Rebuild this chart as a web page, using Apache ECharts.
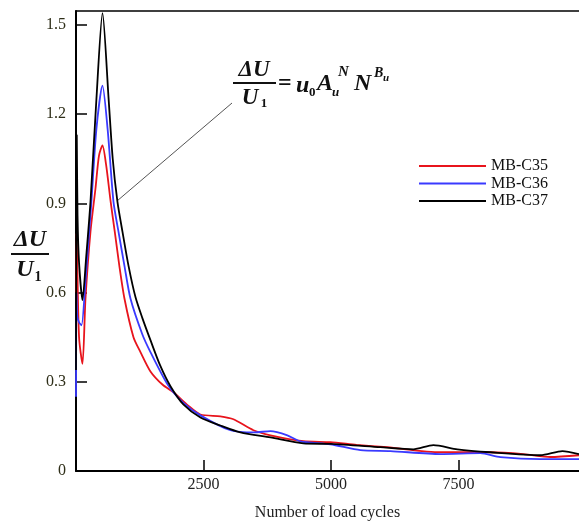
<!DOCTYPE html>
<html>
<head>
<meta charset="utf-8">
<script src="https://cdn.jsdelivr.net/npm/echarts@6/dist/echarts.min.js"></script>
<style>html,body{margin:0;padding:0;background:#fff}#c{width:579px;height:526px}</style>
</head>
<body>
<div id="c"></div>
<script>
const seriesNames = ['MB-C35', 'MB-C36', 'MB-C37'];
const xTicks = [2500, 5000, 7500];
const xTickLabels = ['2500', '5000', '7500'];
const yTicks = [0, 0.3, 0.6, 0.9, 1.2, 1.5];
const yTickLabels = ['0', '0.3', '0.6', '0.9', '1.2', '1.5'];

const mbC35 = [[0,0.6],[10,0.8],[22,0.72],[60,0.45],[127,0.36],[186,0.58],[284,0.805],[382,0.95],[450,1.06],[519,1.095],[590,1.03],[680,0.905],[760,0.805],[850,0.69],[950,0.58],[1127,0.45],[1264,0.40],[1460,0.335],[1700,0.29],[1911,0.265],[2200,0.22],[2440,0.19],[2832,0.184],[3087,0.174],[3479,0.137],[3813,0.12],[4459,0.10],[4988,0.097],[5500,0.088],[6105,0.08],[7144,0.063],[8125,0.063],[8772,0.057],[9301,0.047],[9863,0.053]];
const mbC36 = [[0,0.25],[10,0.6],[25,0.52],[60,0.5],[108,0.49],[186,0.64],[300,0.9],[400,1.15],[519,1.296],[620,1.15],[735,0.905],[833,0.805],[950,0.69],[1068,0.58],[1300,0.46],[1460,0.40],[1800,0.29],[2100,0.23],[2440,0.187],[3028,0.137],[3500,0.13],[3813,0.134],[4145,0.12],[4400,0.10],[4988,0.09],[5576,0.07],[6164,0.067],[7144,0.057],[7928,0.06],[8321,0.047],[9105,0.04],[9863,0.04]];
const mbC37 = [[0,0.34],[15,1.13],[30,0.86],[60,0.70],[127,0.575],[200,0.72],[284,0.905],[400,1.25],[520,1.54],[640,1.25],[720,1.05],[813,0.905],[911,0.805],[1030,0.69],[1166,0.585],[1300,0.515],[1460,0.44],[1650,0.355],[1852,0.285],[2100,0.225],[2440,0.18],[2832,0.153],[3224,0.13],[3813,0.113],[4459,0.093],[5000,0.091],[5968,0.08],[6615,0.073],[7007,0.087],[7477,0.073],[8125,0.063],[9105,0.053],[9537,0.067],[9863,0.057]];

const colors = ['#e8141c', '#3a3aff', '#000000'];
const serif = '"Liberation Serif", "Times New Roman", serif';

const chart = echarts.init(document.getElementById('c'));
const mk = (name, data, color) => ({
  name, type: 'line', data, smooth: 0.25, symbol: 'none',
  lineStyle: { color, width: 1.8 }, itemStyle: { color }
});
const labelOf = (ticks, labels) => v => { const i = ticks.findIndex(t => Math.abs(t - v) < 1e-6); return i >= 0 ? labels[i] : ''; };

chart.setOption({
  animation: false,
  backgroundColor: '#fff',
  grid: { left: 76, top: 11, right: 0, bottom: 52 },
  legend: {
    orient: 'vertical', left: 414, top: 153, icon: 'rect', itemWidth: 67, itemHeight: 2,
    itemGap: 1.5, textStyle: { fontFamily: serif, fontSize: 16, color: '#111', lineHeight: 16 },
    data: seriesNames
  },
  xAxis: [{
    type: 'value', min: 0, max: 9863,
    name: 'Number of load cycles', nameLocation: 'middle', nameGap: 34,
    nameTextStyle: { fontFamily: serif, fontSize: 16, color: '#222' },
    axisLine: { lineStyle: { color: '#000', width: 2 } },
    axisTick: { inside: true, length: 11, lineStyle: { color: '#000', width: 1.5 }, customValues: xTicks },
    axisLabel: { fontFamily: serif, fontSize: 16, color: '#222', margin: 6, customValues: xTicks, formatter: labelOf(xTicks, xTickLabels) },
    splitLine: { show: false }
  }, {
    type: 'value', min: 0, max: 9863, position: 'top',
    axisLine: { show: true, lineStyle: { color: '#000', width: 1.5 } },
    axisTick: { show: false }, axisLabel: { show: false }, splitLine: { show: false }
  }],
  yAxis: {
    type: 'value', min: 0, max: 1.547,
    axisLine: { show: true, lineStyle: { color: '#000', width: 2 } },
    axisTick: { show: true, inside: true, length: 11, lineStyle: { color: '#000', width: 1.5 }, customValues: yTicks },
    axisLabel: { fontFamily: serif, fontSize: 16, color: '#2e2e18', margin: 10, customValues: yTicks, formatter: labelOf(yTicks, yTickLabels) },
    splitLine: { show: false }
  },
  series: [mk(seriesNames[0], mbC35, colors[0]), mk(seriesNames[1], mbC36, colors[1]), mk(seriesNames[2], mbC37, colors[2])],
  graphic: [
    // y-axis title fraction
    { type: 'text', style: { text: 'ΔU', x: 30, y: 240, font: 'italic bold 24px ' + serif, fill: '#111', textAlign: 'center', textVerticalAlign: 'middle' } },
    { type: 'line', shape: { x1: 11, y1: 254, x2: 49, y2: 254 }, style: { stroke: '#111', lineWidth: 2 } },
    { type: 'text', style: { text: 'U', x: 25, y: 270, font: 'italic bold 24px ' + serif, fill: '#111', textAlign: 'center', textVerticalAlign: 'middle' } },
    { type: 'text', style: { text: '1', x: 38, y: 277, font: 'bold 14px ' + serif, fill: '#111', textAlign: 'center', textVerticalAlign: 'middle' } },
    // equation annotation
    { type: 'line', shape: { x1: 117, y1: 201, x2: 232, y2: 103 }, style: { stroke: '#555', lineWidth: 1 } },
    { type: 'text', style: { text: 'ΔU', x: 254, y: 70, font: 'italic bold 23px ' + serif, fill: '#111', textAlign: 'center', textVerticalAlign: 'middle' } },
    { type: 'line', shape: { x1: 233, y1: 83, x2: 276, y2: 83 }, style: { stroke: '#111', lineWidth: 2 } },
    { type: 'text', style: { text: 'U', x: 250, y: 98, font: 'italic bold 23px ' + serif, fill: '#111', textAlign: 'center', textVerticalAlign: 'middle' } },
    { type: 'text', style: { text: '1', x: 264, y: 104, font: 'bold 13px ' + serif, fill: '#111', textAlign: 'center', textVerticalAlign: 'middle' } },
    { type: 'text', style: { text: '=', x: 278, y: 84, font: 'bold 24px ' + serif, fill: '#111', textAlign: 'left', textVerticalAlign: 'middle' } },
    { type: 'text', style: { text: 'u', x: 296, y: 86, font: 'italic bold 24px ' + serif, fill: '#111', textAlign: 'left', textVerticalAlign: 'middle' } },
    { type: 'text', style: { text: '0', x: 309, y: 93, font: 'bold 13px ' + serif, fill: '#111', textAlign: 'left', textVerticalAlign: 'middle' } },
    { type: 'text', style: { text: 'A', x: 317, y: 84, font: 'italic bold 24px ' + serif, fill: '#111', textAlign: 'left', textVerticalAlign: 'middle' } },
    { type: 'text', style: { text: 'u', x: 332, y: 93, font: 'italic bold 13px ' + serif, fill: '#111', textAlign: 'left', textVerticalAlign: 'middle' } },
    { type: 'text', style: { text: 'N', x: 338, y: 72, font: 'italic bold 15px ' + serif, fill: '#111', textAlign: 'left', textVerticalAlign: 'middle' } },
    { type: 'text', style: { text: 'N', x: 354, y: 84, font: 'italic bold 24px ' + serif, fill: '#111', textAlign: 'left', textVerticalAlign: 'middle' } },
    { type: 'text', style: { text: 'B', x: 374, y: 73, font: 'italic bold 14px ' + serif, fill: '#111', textAlign: 'left', textVerticalAlign: 'middle' } },
    { type: 'text', style: { text: 'u', x: 383, y: 78, font: 'italic bold 11px ' + serif, fill: '#111', textAlign: 'left', textVerticalAlign: 'middle' } }
  ]
});
</script>
</body>
</html>
